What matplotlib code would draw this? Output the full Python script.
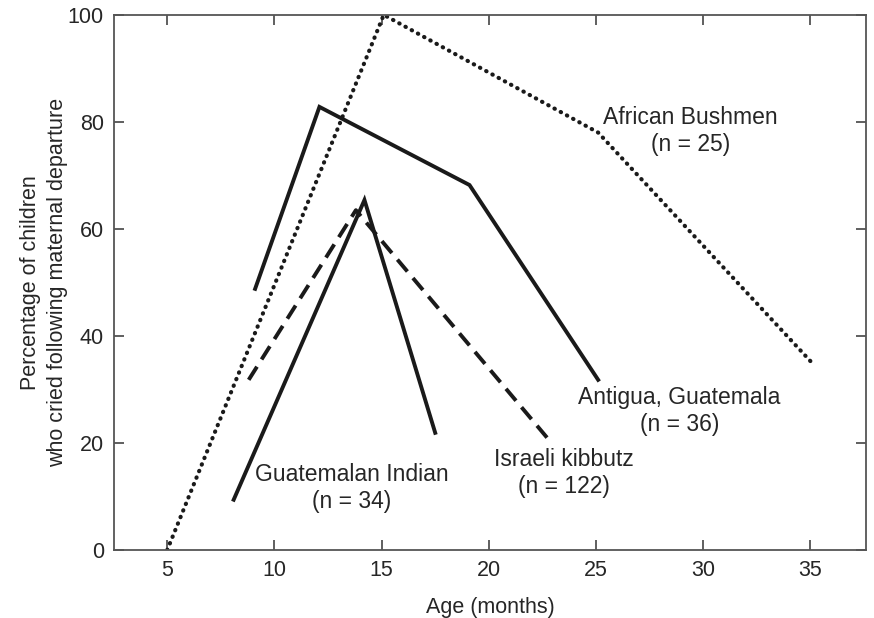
import matplotlib.pyplot as plt

plt.rcParams['font.family'] = ['Liberation Sans', 'DejaVu Sans']

# Data (age in months, % crying)
bushmen_x = [5.0, 15.1, 25.1, 35.0]
bushmen_y = [0.0, 100.0, 78.0, 35.3]

antigua_x = [9.1, 12.1, 19.1, 25.1]
antigua_y = [48.8, 82.8, 68.2, 31.8]

indian_x = [8.1, 14.2, 17.5]
indian_y = [9.4, 65.4, 21.9]

kibbutz_x = [8.8, 13.8, 22.8]
kibbutz_y = [31.8, 63.5, 20.6]

x_ticks = [5, 10, 15, 20, 25, 30, 35]
y_ticks = [0, 20, 40, 60, 80, 100]

fig = plt.figure(figsize=(8.74, 6.18), dpi=100)
ax = fig.add_axes([0.130, 0.110, 0.861, 0.866])

ax.plot(bushmen_x, bushmen_y, color='#1a1a1a', lw=3.0,
        linestyle=(0, (0.1, 1.6)), dash_capstyle='round')
ax.plot(antigua_x, antigua_y, color='#1a1a1a', lw=2.8, solid_joinstyle='miter')
ax.plot(indian_x, indian_y, color='#1a1a1a', lw=2.8, solid_joinstyle='miter')
ax.plot(kibbutz_x, kibbutz_y, color='#1a1a1a', lw=2.8, linestyle=(0, (4, 2.2)))

fs = 16.5
tc = '#262626'
ax.text(29.4, 78.3, "African Bushmen\n(n = 25)", ha='center', va='center', fontsize=fs, color=tc, linespacing=1.2)
ax.text(28.9, 26.0, "Antigua, Guatemala\n(n = 36)", ha='center', va='center', fontsize=fs, color=tc, linespacing=1.2)
ax.text(23.5, 14.4, "Israeli kibbutz\n(n = 122)", ha='center', va='center', fontsize=fs, color=tc, linespacing=1.2)
ax.text(13.6, 11.6, "Guatemalan Indian\n(n = 34)", ha='center', va='center', fontsize=fs, color=tc, linespacing=1.2)

ax.set_xlim(2.5, 37.6)
ax.set_ylim(0, 100)
ax.set_xticks(x_ticks)
ax.set_yticks(y_ticks)
ax.tick_params(direction='in', top=True, right=True, length=7, width=1.2,
               labelsize=15.5, colors='#444444', labelcolor=tc, pad=7)
for s in ax.spines.values():
    s.set_color('#555555')
    s.set_linewidth(1.3)

ax.set_xlabel("Age (months)", fontsize=15.5, color=tc, labelpad=12)
ax.set_ylabel("Percentage of children\nwho cried following maternal departure",
              fontsize=15.5, color=tc, labelpad=0, linespacing=1.35)

fig.savefig('out.png', dpi=100)
